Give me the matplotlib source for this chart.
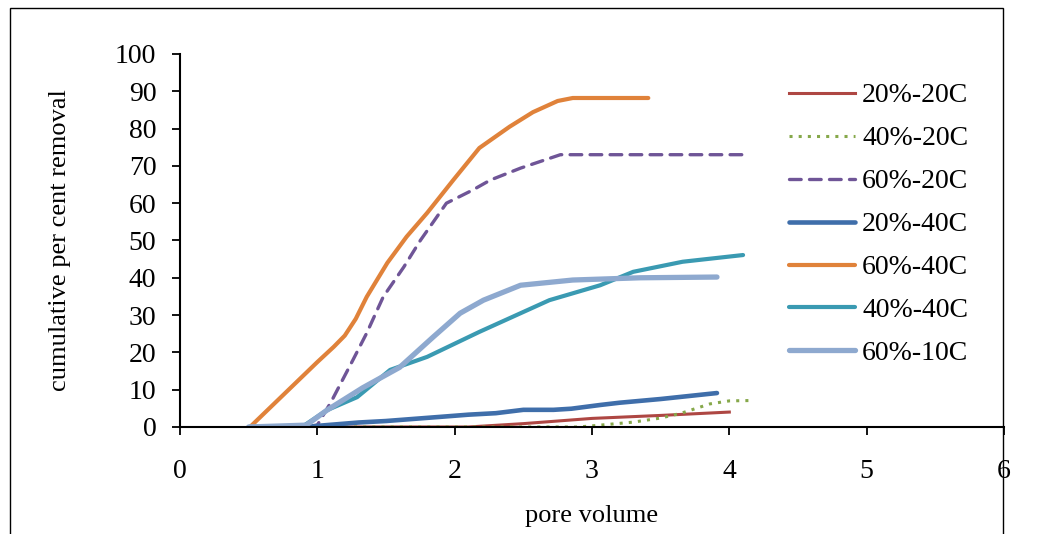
import matplotlib.pyplot as plt
from matplotlib.patches import Rectangle

plt.rcParams['font.family'] = ['Liberation Serif', 'DejaVu Serif']

# Data (pore volume vs cumulative % removal)
x_20_20 = [1.0, 1.5, 2.1, 2.5, 3.0, 3.5, 4.0]
y_20_20 = [0, 0, 0, 0.9, 2.3, 3.1, 4.0]

x_40_20 = [1.0, 2.0, 2.9, 3.0, 3.3, 3.5, 3.65, 3.86, 4.0, 4.17]
y_40_20 = [0, 0, 0, 0.3, 1.3, 2.4, 3.7, 6.2, 7.0, 7.1]

x_60_20 = [0.5, 0.9, 1.0, 1.1, 1.26, 1.36, 1.48, 1.63, 1.75, 1.87, 1.94, 2.13,
           2.26, 2.48, 2.77, 3.0, 4.1]
y_60_20 = [0, 0, 0.5, 6.7, 18, 25.2, 34.9, 42.9, 50, 56.3, 60, 63.5,
           66.2, 69.4, 73, 73, 73]

x_20_40 = [0.92, 1.0, 1.3, 1.5, 1.89, 2.1, 2.3, 2.5, 2.72, 2.85, 3.06, 3.2, 3.5, 3.91]
y_20_40 = [0, 0.3, 1.2, 1.6, 2.7, 3.3, 3.7, 4.6, 4.6, 4.9, 5.9, 6.5, 7.5, 9.1]

x_60_40 = [0.51, 1.0, 1.12, 1.2, 1.28, 1.36, 1.51, 1.65, 1.80, 1.99, 2.18, 2.4,
           2.57, 2.75, 2.86, 3.0, 3.41]
y_60_40 = [0, 17.4, 21.5, 24.5, 29, 34.9, 44, 51, 57.4, 66.2, 74.8, 80.5,
           84.4, 87.4, 88.2, 88.2, 88.2]

x_40_40 = [0.5, 0.9, 1.07, 1.29, 1.53, 1.80, 2.18, 2.69, 3.06, 3.3, 3.66, 4.1]
y_40_40 = [0, 0.3, 4.5, 8, 15.3, 18.8, 25.5, 34, 38, 41.6, 44.3, 46.1]

x_60_10 = [0.5, 0.92, 1.07, 1.33, 1.6, 1.84, 2.04, 2.21, 2.48, 2.86, 3.35, 3.91]
y_60_10 = [0, 0.5, 4.5, 10.5, 16, 24, 30.5, 34, 38, 39.4, 40, 40.2]

fig = plt.figure(figsize=(10.63, 5.34), dpi=100)
ax = fig.add_axes([0.1693, 0.2004, 0.7752, 0.6985])

ax.plot(x_20_20, y_20_20, color='#AE4743', lw=2.2, label='20%-20C')
ax.plot(x_40_20, y_40_20, color='#86A84A', lw=2.2, ls=(0, (1, 2)), label='40%-20C')
ax.plot(x_60_20, y_60_20, color='#6F5597', lw=2.4, ls=(0, (3.5, 2.5)),
        dash_capstyle='round', label='60%-20C')
ax.plot(x_20_40, y_20_40, color='#3F6EAA', lw=3.3, solid_capstyle='round', label='20%-40C')
ax.plot(x_60_40, y_60_40, color='#E0823A', lw=3.0, solid_capstyle='round', label='60%-40C')
ax.plot(x_40_40, y_40_40, color='#3A9AB2', lw=3.0, solid_capstyle='round', label='40%-40C')
ax.plot(x_60_10, y_60_10, color='#8EA9CF', lw=3.8, solid_capstyle='round', label='60%-10C')

ax.set_xlim(0, 6)
ax.set_ylim(0, 100)
ax.set_xticks(range(0, 7))
ax.set_yticks(range(0, 101, 10))
ax.spines['top'].set_visible(False)
ax.spines['right'].set_visible(False)
ax.spines['left'].set_linewidth(1.5)
ax.spines['bottom'].set_linewidth(1.5)
ax.tick_params(axis='y', direction='out', length=6, width=1.3, pad=11, labelsize=20)
ax.tick_params(axis='x', direction='out', length=6, width=1.3, pad=17, labelsize=20)

ax.set_xlabel('pore volume', fontsize=19, labelpad=15)
ax.set_ylabel('cumulative per cent removal', fontsize=19, labelpad=32)

ax.legend(loc='upper left', bbox_to_anchor=(0.725, 0.952), frameon=False,
          fontsize=20, handlelength=2.4, handletextpad=0.25, labelspacing=0.63,
          borderaxespad=0)

fig.patches.append(Rectangle((10 / 1063, -0.05), 993 / 1063, 1.05 - 8 / 534,
                             transform=fig.transFigure, fill=False,
                             edgecolor='black', lw=1.0))

fig.savefig('out.png', dpi=100)
